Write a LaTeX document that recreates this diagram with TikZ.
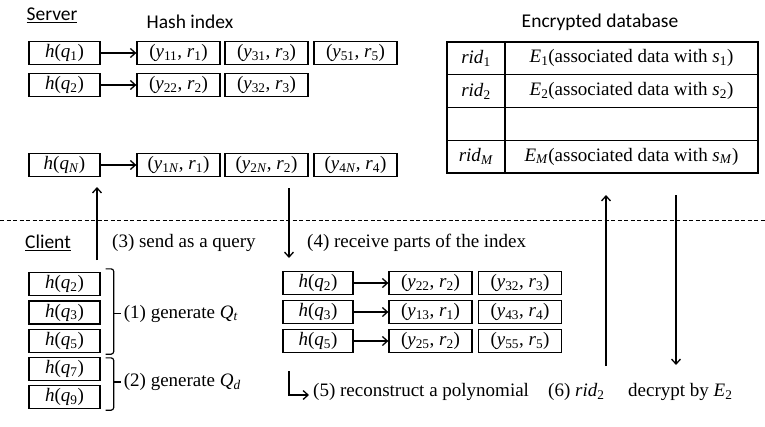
\documentclass[tikz,border=0pt]{standalone}
\usepackage{fontspec}
\setmainfont{Liberation Serif}
\newfontfamily\labelfont{Carlito}
\usetikzlibrary{calc, arrows.meta}

\tikzset{
	cell/.style={draw, line width=1.3pt, minimum height=23pt, inner sep=0pt},
	hcell/.style={cell, minimum width=71pt},
	pcell/.style={cell, minimum width=83pt},
	dbcell/.style={draw, line width=1.3pt, minimum height=32.75pt, inner sep=0pt},
	title/.style={font=\labelfont\fontsize{19.5}{22}\selectfont, inner sep=0pt},
	note/.style={anchor=west, inner sep=0pt},
	link/.style={-{Straight Barb[length=5pt, width=9pt, line width=1.3pt]}, line width=1.2pt},
	bracket/.style={line width=1.2pt, rounded corners=2.5pt},
}

\newcommand{\hq}[1]{\textit{h}(\textit{q}\textsubscript{#1})}
\newcommand{\yr}[2]{(\textit{y}\textsubscript{#1}, \textit{r}\textsubscript{#2})}

\begin{document}
\begin{tikzpicture}[x=1pt, y=-1pt, font=\fontsize{19}{22}\selectfont]
	\useasboundingbox (0,0) rectangle (765,426);
	
	% server side
	\node[title] (srv) at (52,15) {\underline{Server}};
	\node[title] (hidx) at (190,22) {Hash index};
	\node[title] (edb) at (600,22) {Encrypted database};
	
	% hash index
	\node[hcell] (s1) at (64.5,53) {\hq{1}};
	\node[pcell] (s1a) at (178.5,53) {\yr{11}{1}};
	\node[pcell] (s1b) at (266.5,53) {\yr{31}{3}};
	\node[pcell] (s1c) at (355.5,53) {\yr{51}{5}};
	\draw[link] (s1) -- (s1a);
	
	\node[hcell] (s2) at (64.5,85) {\hq{2}};
	\node[pcell] (s2a) at (178.5,85) {\yr{22}{2}};
	\node[pcell] (s2b) at (266.5,85) {\yr{32}{3}};
	\draw[link] (s2) -- (s2a);
	
	\node[hcell] (sN) at (64.5,165) {\hq{\textit{N}}};
	\node[pcell] (sNa) at (178.5,165) {\yr{1\textit{N}}{1}};
	\node[pcell] (sNb) at (266.5,165) {\yr{2\textit{N}}{2}};
	\node[pcell] (sNc) at (355.5,165) {\yr{4\textit{N}}{4}};
	\draw[link] (sN) -- (sNa);
	
	% encrypted database
	\foreach \i/\y/\rid/\data in {
		1/58.4/{\textit{rid}\textsubscript{1}}/{\textit{E}\textsubscript{1}(associated data with \textit{s}\textsubscript{1})},
		2/91.1/{\textit{rid}\textsubscript{2}}/{\textit{E}\textsubscript{2}(associated data with \textit{s}\textsubscript{2})},
		3/123.9/{}/{},
		4/156.6/{\textit{rid}\textsubscript{\textit{M}}}/{\textit{E}\textsubscript{\textit{M}}(associated data with \textit{s}\textsubscript{\textit{M}})}}{
		\node[dbcell, minimum width=58pt] (rid\i) at (476,\y) {\rid};
		\node[dbcell, minimum width=253pt] (dat\i) at (631.5,\y) {\data};
	}
	
	% boundary
	\draw[dashed, dash pattern=on 4pt off 2.5pt, line width=1pt] (0,220) -- (765,220);
	
	% client side
	\node[title] (cli) at (48,243) {\underline{Client}};
	\node[note] (t3) at (112,243) {(3) send as a query};
	\node[note] (t4) at (307,243) {(4) receive parts of the index};
	
	\coordinate (qryA) at (97,260);
	\coordinate (qryB) at (97,187);
	\draw[link] (qryA) -- (qryB);
	\coordinate (ansA) at (289,188);
	\coordinate (ansB) at (289,258);
	\draw[link] (ansA) -- (ansB);
	
	% queries Q_t and Q_d
	\foreach \i/\q/\y in {1/2/284, 2/3/312.5, 3/5/341, 4/7/369, 5/9/397}{
		\node[hcell] (c\i) at (64.5,\y) {\hq{\q}};
	}
	\draw[bracket] ([shift={(5pt,3pt)}]c1.north east) -| ([shift={(13pt,-1pt)}]c3.south east) -- ([shift={(5pt,-1pt)}]c3.south east);
	\draw[line width=1.2pt] ($(c1.north east)!0.5!(c3.south east)+(13,1)$) coordinate (tipQt) -- ++(7,0);
	\draw[bracket] ([shift={(5pt,-1pt)}]c4.north east) -| ([shift={(13pt,-1pt)}]c5.south east) -- ([shift={(5pt,-1pt)}]c5.south east);
	\draw[line width=1.2pt] ($(c4.north east)!0.5!(c5.south east)+(13,-1)$) coordinate (tipQd) -- ++(7,0);
	\node[note] (t1) at ([xshift=10pt]tipQt) {(1) generate \textit{Q}\textsubscript{\textit{t}}};
	\node[note] (t2) at ([xshift=10pt]tipQd) {(2) generate \textit{Q}\textsubscript{\textit{d}}};
	
	% received parts
	\foreach \i/\q/\y/\a/\b in {1/2/283/{\yr{22}{2}}/{\yr{32}{3}},
		2/3/312/{\yr{13}{1}}/{\yr{43}{4}},
		3/5/341/{\yr{25}{2}}/{\yr{55}{5}}}{
		\node[hcell, minimum width=70pt] (m\i) at (318,\y) {\hq{\q}};
		\node[pcell] (m\i a) at (430.5,\y) {\a};
		\node[pcell] (m\i b) at (520,\y) {\b};
		\draw[link] (m\i) -- (m\i a);
	}
	
	% reconstruct and decrypt
	\node[note] (t5) at (313,392) {(5) reconstruct a polynomial};
	\node[note] (t6) at (548,392) {(6) \textit{rid}\textsubscript{2}};
	\node[note] (t7) at (628,392) {decrypt by \textit{E}\textsubscript{2}};
	\coordinate (recA) at (289,371);
	\draw[link] (recA) |- ([shift={(-4pt,-3pt)}]t5.west);
	
	\coordinate (fetchA) at (606,366);
	\coordinate (fetchB) at (606,195);
	\draw[link] (fetchA) -- (fetchB);
	\coordinate (backA) at (676,195);
	\coordinate (backB) at (676,365);
	\draw[link] (backA) -- (backB);
\end{tikzpicture}
\end{document}
